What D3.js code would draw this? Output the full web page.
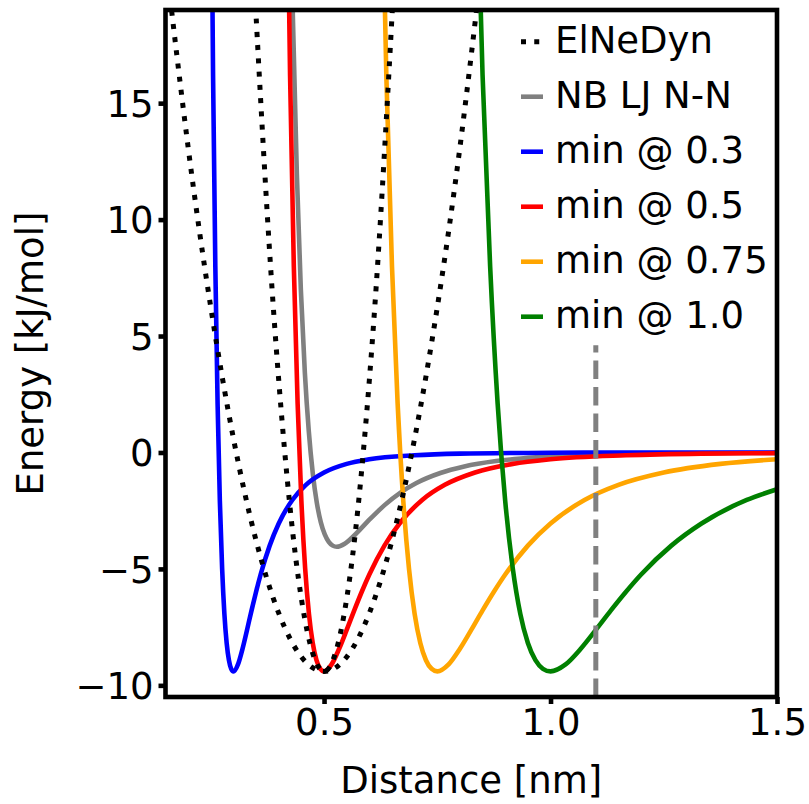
<!DOCTYPE html>
<html>
<head>
<meta charset="utf-8">
<script src="https://cdn.jsdelivr.net/npm/d3@7"></script>
<style>
body { margin: 0; background: #fff; }
text { font-family: "DejaVu Sans", sans-serif; fill: #000; }
</style>
</head>
<body>
<script>
// ElNeDyn harmonic bonds (two force constants)
var elnedynWideR = [0.15, 0.20, 0.25, 0.30, 0.35, 0.40, 0.45, 0.50, 0.55, 0.60, 0.65, 0.70, 0.75, 0.80, 0.85];
var elnedynWideE = [21.23, 13.1, 6.23, 0.6, -3.78, -6.9, -8.78, -9.4, -8.78, -6.9, -3.78, 0.6, 6.23, 13.1, 21.23];
var elnedynNarrowR = [0.34, 0.35, 0.375, 0.40, 0.425, 0.45, 0.475, 0.50, 0.525, 0.55, 0.575, 0.60, 0.625, 0.65, 0.66];
var elnedynNarrowE = [22.6, 18.73, 10.13, 3.1, -2.37, -6.28, -8.62, -9.4, -8.62, -6.28, -2.37, 3.1, 10.13, 18.73, 22.6];

// non-bonded LJ N-N
var nbR = [0.4224, 0.4312, 0.44, 0.4488, 0.4576, 0.4664, 0.4752, 0.484, 0.4928, 0.5016, 0.5104, 0.5192, 0.528, 0.5456, 0.5632, 0.5808, 0.5984, 0.616, 0.6336, 0.6688, 0.704, 0.7568, 0.8096, 0.88, 0.968, 1.056, 1.232, 1.50];
var nbE = [28.0, 18.72, 11.94, 6.99, 3.44, 0.90, -0.90, -2.15, -2.99, -3.52, -3.84, -4.00, -4.05, -3.92, -3.63, -3.28, -2.92, -2.58, -2.26, -1.72, -1.31, -0.88, -0.60, -0.37, -0.21, -0.13, -0.05, -0.02];

// LJ curves with minimum at 0.3, 0.5, 0.75, 1.0
var min03R = [0.25, 0.255, 0.26, 0.265, 0.27, 0.275, 0.28, 0.285, 0.29, 0.295, 0.30, 0.31, 0.32, 0.33, 0.34, 0.35, 0.36, 0.38, 0.40, 0.43, 0.46, 0.50, 0.55, 0.60, 0.70, 0.80, 1.00, 1.20, 1.50];
var min03E = [27.7, 16.2, 7.99, 2.09, -2.09, -4.98, -6.93, -8.18, -8.92, -9.29, -9.40, -9.10, -8.43, -7.62, -6.78, -5.98, -5.24, -4.00, -3.05, -2.04, -1.39, -0.86, -0.49, -0.29, -0.12, -0.05, -0.01, 0.00, 0.00];
var min05R = [0.4167, 0.425, 0.4333, 0.4417, 0.45, 0.4583, 0.4667, 0.475, 0.4833, 0.4917, 0.50, 0.5167, 0.5333, 0.55, 0.5667, 0.5833, 0.60, 0.6333, 0.6667, 0.7167, 0.7667, 0.8333, 0.9167, 1.00, 1.1667, 1.3333, 1.50];
var min05E = [27.7, 16.2, 7.99, 2.09, -2.09, -4.98, -6.93, -8.18, -8.92, -9.29, -9.40, -9.10, -8.43, -7.62, -6.78, -5.98, -5.24, -4.00, -3.05, -2.04, -1.39, -0.86, -0.49, -0.29, -0.12, -0.05, -0.03];
var min075R = [0.625, 0.6375, 0.65, 0.6625, 0.675, 0.6875, 0.70, 0.7125, 0.725, 0.7375, 0.75, 0.775, 0.80, 0.825, 0.85, 0.875, 0.90, 0.95, 1.00, 1.075, 1.15, 1.25, 1.375, 1.50];
var min075E = [27.7, 16.2, 7.99, 2.09, -2.09, -4.98, -6.93, -8.18, -8.92, -9.29, -9.40, -9.10, -8.43, -7.62, -6.78, -5.98, -5.24, -4.00, -3.05, -2.04, -1.39, -0.86, -0.49, -0.29];
var min10R = [0.8333, 0.85, 0.8667, 0.8833, 0.90, 0.9167, 0.9333, 0.95, 0.9667, 0.9833, 1.00, 1.0333, 1.0667, 1.10, 1.1333, 1.1667, 1.20, 1.2667, 1.3333, 1.4333, 1.50];
var min10E = [27.7, 16.2, 7.99, 2.09, -2.09, -4.98, -6.93, -8.18, -8.92, -9.29, -9.40, -9.10, -8.43, -7.62, -6.78, -5.98, -5.24, -4.00, -3.05, -2.04, -1.58];

// cutoff marker
var cutoffX = 1.1;
var cutoffE = [-10.5, 4.6];

var legendLabels = ["ElNeDyn", "NB LJ N-N", "min @ 0.3", "min @ 0.5", "min @ 0.75", "min @ 1.0"];
var xTicks = [0.5, 1.0, 1.5];
var xTickLabels = ["0.5", "1.0", "1.5"];
var yTicks = [-10, -5, 0, 5, 10, 15];
var yTickLabels = ["\u221210", "\u22125", "0", "5", "10", "15"];

function makeGraph() {
	var w = 809;
	var h = 804;
	var left = 165.5, right = 777, top = 10, bottom = 697;
	var lw = 4.6;
	var fs = 37;

	var svg = d3.select("body")
		.append("svg")
		.attr("width", w)
		.attr("height", h);

	var xScale = d3.scaleLinear().domain([0.15, 1.5]).range([left, right]);
	var yScale = d3.scaleLinear().domain([-10.5, 19]).range([bottom, top]);

	svg.append("clipPath")
		.attr("id", "plotclip")
		.append("rect")
		.attr("x", left).attr("y", top)
		.attr("width", right - left).attr("height", bottom - top);

	function pts(rs, es) {
		return rs.map(function(r, i) { return [r, es[i]]; });
	}

	var smooth = d3.line()
		.x(function(d) { return xScale(d[0]); })
		.y(function(d) { return yScale(d[1]); })
		.curve(d3.curveMonotoneX);
	var natural = d3.line()
		.x(function(d) { return xScale(d[0]); })
		.y(function(d) { return yScale(d[1]); })
		.curve(d3.curveNatural);

	var plot = svg.append("g").attr("clip-path", "url(#plotclip)");

	var solid = [
		{ data: pts(nbR, nbE), color: "grey" },
		{ data: pts(min03R, min03E), color: "blue" },
		{ data: pts(min05R, min05E), color: "red" },
		{ data: pts(min075R, min075E), color: "orange" },
		{ data: pts(min10R, min10E), color: "green" }
	];

	plot.selectAll("path.lj")
		.data(solid)
		.enter()
		.append("path")
		.attr("class", "lj")
		.attr("d", function(d) { return smooth(d.data); })
		.attr("fill", "none")
		.attr("stroke", function(d) { return d.color; })
		.attr("stroke-width", lw)
		.attr("stroke-linejoin", "round")
		.attr("stroke-linecap", "round");

	plot.selectAll("path.elnedyn")
		.data([pts(elnedynWideR, elnedynWideE), pts(elnedynNarrowR, elnedynNarrowE)])
		.enter()
		.append("path")
		.attr("class", "elnedyn")
		.attr("d", natural)
		.attr("fill", "none")
		.attr("stroke", "black")
		.attr("stroke-width", 5)
		.attr("stroke-dasharray", "5 8.25");

	plot.append("line")
		.attr("x1", xScale(cutoffX)).attr("x2", xScale(cutoffX))
		.attr("y1", yScale(cutoffE[0])).attr("y2", yScale(cutoffE[1]))
		.attr("stroke", "grey")
		.attr("stroke-width", 5)
		.attr("stroke-dasharray", "18.5 8");

	// axes
	var xAxis = d3.axisBottom(xScale)
		.tickValues(xTicks)
		.tickSize(7)
		.tickPadding(5)
		.tickFormat(function(d, i) { return xTickLabels[i]; });
	var yAxis = d3.axisLeft(yScale)
		.tickValues(yTicks)
		.tickSize(7)
		.tickPadding(5)
		.tickFormat(function(d, i) { return yTickLabels[i]; });

	var gx = svg.append("g")
		.attr("transform", "translate(0," + bottom + ")")
		.call(xAxis);
	var gy = svg.append("g")
		.attr("transform", "translate(" + left + ",0)")
		.call(yAxis);

	[gx, gy].forEach(function(g) {
		g.select(".domain").remove();
		g.selectAll(".tick line").attr("stroke", "black").attr("stroke-width", lw);
		g.selectAll(".tick text")
			.attr("font-size", fs)
			.attr("font-family", "DejaVu Sans")
			.attr("fill", "black");
	});
	gy.selectAll(".tick text").attr("dy", "0.36em");

	// frame
	svg.append("rect")
		.attr("x", left).attr("y", top)
		.attr("width", right - left).attr("height", bottom - top)
		.attr("fill", "none")
		.attr("stroke", "black")
		.attr("stroke-width", lw);

	svg.append("text")
		.attr("x", (left + right) / 2)
		.attr("y", 793)
		.attr("text-anchor", "middle")
		.attr("font-size", fs)
		.text("Distance [nm]");

	svg.append("text")
		.attr("transform", "translate(43," + (top + bottom) / 2 + ") rotate(-90)")
		.attr("text-anchor", "middle")
		.attr("font-size", fs)
		.text("Energy [kJ/mol]");

	// legend
	var legendStyles = [
		{ color: "black", dash: "5 8.25" },
		{ color: "grey", dash: null },
		{ color: "blue", dash: null },
		{ color: "red", dash: null },
		{ color: "orange", dash: null },
		{ color: "green", dash: null }
	];
	var legend = svg.append("g");
	var item = legend.selectAll("g")
		.data(legendLabels)
		.enter()
		.append("g")
		.attr("transform", function(d, i) { return "translate(0," + (53.3 + 55 * i) + ")"; });
	item.append("line")
		.attr("x1", 521).attr("x2", 543)
		.attr("y1", -11.6).attr("y2", -11.6)
		.attr("stroke", function(d, i) { return legendStyles[i].color; })
		.attr("stroke-width", function(d, i) { return i == 0 ? 5 : lw; })
		.attr("stroke-dasharray", function(d, i) { return legendStyles[i].dash; });
	item.append("text")
		.attr("x", 555)
		.attr("y", 0)
		.attr("font-size", fs)
		.text(function(d) { return d; });
}

makeGraph();
</script>
</body>
</html>
